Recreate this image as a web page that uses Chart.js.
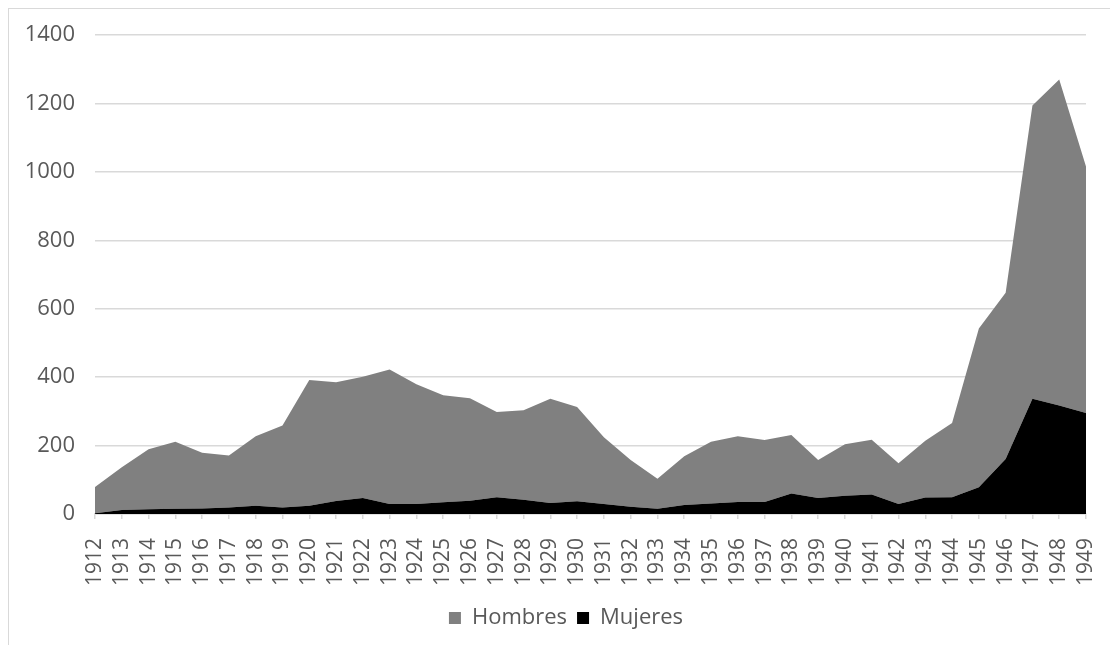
<!DOCTYPE html>
<html>
<head>
<meta charset="utf-8">
<script src="https://cdn.jsdelivr.net/npm/chart.js@4"></script>
<style>
  html, body { margin: 0; padding: 0; background: #ffffff; overflow: hidden; }
  #wrap { position: relative; width: 1110px; height: 645px; overflow: hidden; }
  #frame { position: absolute; left: 8px; top: 8px; width: 2000px; height: 2000px; border: 1px solid #d9d9d9; box-sizing: border-box; }
  canvas { position: absolute; left: 0; top: 0; }
</style>
</head>
<body>
<div id="wrap">
  <div id="frame"></div>
  <canvas id="c" width="1110" height="645"></canvas>
</div>
<script>
const years = ['1912','1913','1914','1915','1916','1917','1918','1919','1920','1921','1922','1923','1924','1925','1926','1927','1928','1929','1930','1931','1932','1933','1934','1935','1936','1937','1938','1939','1940','1941','1942','1943','1944','1945','1946','1947','1948','1949'];
const mujeres = [2,12,14,15,16,19,24,19,24,38,47,29,29,34,39,49,42,32,37,29,21,15,26,31,35,35,60,47,53,57,29,48,49,78,161,337,317,295];
const hombres = [77,125,175,196,163,152,203,240,368,347,354,393,350,313,299,249,261,305,276,195,137,88,143,180,192,181,171,111,151,160,119,166,217,464,486,857,953,721];
const yTicks = { min: 0, max: 1400, step: 200 };

const textColor = '#595959';
const fontFamily = '"Open Sans", "Noto Sans", sans-serif';

// shift the legend so it is centred where the reference places it
const legendShift = {
  id: 'legendShift',
  afterLayout(chart) {
    if (chart.legend) { chart.legend.left += 23; chart.legend.right += 23; }
  }
};

new Chart(document.getElementById('c'), {
  type: 'line',
  data: {
    labels: years,
    datasets: [
      { label: 'Mujeres', data: mujeres, backgroundColor: '#000000', borderColor: '#000000', borderWidth: 0, pointRadius: 0, fill: 'origin', tension: 0 },
      { label: 'Hombres', data: hombres, backgroundColor: '#808080', borderColor: '#808080', borderWidth: 0, pointRadius: 0, fill: '-1', tension: 0 }
    ]
  },
  plugins: [legendShift],
  options: {
    responsive: false,
    animation: false,
    devicePixelRatio: 1,
    layout: { padding: { top: 35, left: 0, right: 24, bottom: 6 } },
    plugins: {
      tooltip: { enabled: false },
      legend: {
        position: 'bottom',
        reverse: true,
        labels: { boxWidth: 12, boxHeight: 12, padding: 10, color: textColor, font: { family: fontFamily, size: 22 } }
      }
    },
    scales: {
      x: {
        grid: { display: true, drawOnChartArea: false, drawTicks: true, tickLength: 5, color: '#d9d9d9', lineWidth: 1.5 },
        border: { display: true, color: '#d9d9d9', width: 1.5 },
        ticks: { autoSkip: false, minRotation: 90, maxRotation: 90, padding: 19, color: textColor, font: { family: fontFamily, size: 21 } },
        afterFit: (s) => { s.height = 83; s.paddingLeft = 0; s.paddingRight = 0; }
      },
      y: {
        stacked: true,
        min: yTicks.min,
        max: yTicks.max,
        grid: { color: '#d9d9d9', lineWidth: 1.5, drawTicks: false },
        border: { display: false },
        ticks: { stepSize: yTicks.step, padding: 20, color: textColor, font: { family: fontFamily, size: 22 }, callback: (v) => String(v) },
        afterFit: (s) => { s.width = 95; }
      }
    }
  }
});
</script>
</body>
</html>
